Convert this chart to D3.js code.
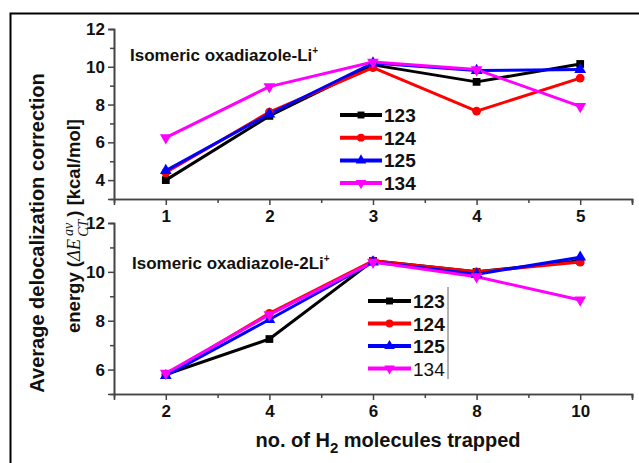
<!DOCTYPE html>
<html><head><meta charset="utf-8">
<script src="https://cdn.jsdelivr.net/npm/d3@7"></script>
<style>body{margin:0;background:#fff}svg{display:block;font-family:Arial,"Liberation Sans",sans-serif}</style>
</head><body><svg id="c" width="639" height="463"></svg>
<script>
const seriesNames = ["123","124","125","134"];
const colors = ["#000000","#ff0000","#0000ff","#ff00ff"];
const symbols = [d3.symbolSquare, d3.symbolCircle, d3.symbolTriangle, "down"];
const topX = [1,2,3,4,5];
const top123 = [4.0,7.4,10.1,9.2,10.15];
const top124 = [4.4,7.6,9.95,7.65,9.4];
const top125 = [4.5,7.5,10.2,9.8,9.85];
const top134 = [6.25,8.95,10.25,9.85,7.9];
const botX = [2,4,6,8,10];
const bot123 = [5.8,7.25,10.45,10.0,10.45];
const bot124 = [5.8,8.3,10.45,10.0,10.4];
const bot125 = [5.75,8.05,10.4,9.9,10.6];
const bot134 = [5.85,8.25,10.4,9.8,8.85];
const topYTicks = [4,6,8,10,12];
const botYTicks = [6,8,10,12];

const svg = d3.select("#c");
svg.append("rect").attr("x",10.5).attr("y",13.5).attr("width",640).attr("height",460)
  .attr("fill","none").attr("stroke","#000").attr("stroke-width",2);

function panel(cfg){
  const g = svg.append("g");
  const x = d3.scaleLinear().domain(cfg.xd).range([114,632]);
  const y = d3.scaleLinear().domain(cfg.yd).range(cfg.yr);
  const xa = d3.axisBottom(x).tickValues(cfg.xMinor).tickSize(4).tickFormat("");
  g.append("g").attr("transform",`translate(0,${cfg.yr[0]})`).call(xa);
  const xm = d3.axisBottom(x).tickValues(cfg.xTicks).tickSize(6).tickPadding(5).tickFormat(d3.format("d"));
  g.append("g").attr("transform",`translate(0,${cfg.yr[0]})`).call(xm);
  const ya = d3.axisLeft(y).tickValues(cfg.yMinor).tickSize(4).tickFormat("");
  g.append("g").attr("transform",`translate(114,0)`).call(ya);
  const ym = d3.axisLeft(y).tickValues(cfg.yTicks).tickSize(6).tickPadding(3).tickFormat(d3.format("d"));
  g.append("g").attr("transform",`translate(114,0)`).call(ym);
  g.selectAll(".domain").attr("stroke","#444").attr("stroke-width",1.6);
  g.selectAll(".tick line").attr("stroke","#444").attr("stroke-width",1.5);
  g.selectAll(".tick text").attr("font-size",17).attr("font-weight","bold").attr("fill","#111")
    .attr("font-family","Arial,'Liberation Sans',sans-serif");
  g.append("text").attr("x",cfg.titleX).attr("y",cfg.titleY).attr("font-size",17).attr("font-weight","bold")
    .attr("fill","#111").text(cfg.title).append("tspan").attr("dy",-7).attr("font-size",10).text("+");
  const line = d3.line().x((d,i)=>x(cfg.xs[i])).y(d=>y(d));
  cfg.data.forEach((vals,k)=>{
    g.append("path").attr("d",line(vals)).attr("fill","none").attr("stroke",colors[k]).attr("stroke-width",3).attr("stroke-linejoin","round");
  });
  cfg.data.forEach((vals,k)=>{
    vals.forEach((v,i)=>marker(g,x(cfg.xs[i]),y(v),k,1));
  });
  seriesNames.forEach((n,k)=>{
    const ly = cfg.legY + k*cfg.legStep;
    g.append("line").attr("x1",cfg.legX).attr("x2",cfg.legX+cfg.legW).attr("y1",ly).attr("y2",ly)
      .attr("stroke",colors[k]).attr("stroke-width",4);
    marker(g,cfg.legX+cfg.legW/2,ly,k,0.8);
    g.append("text").attr("x",cfg.legX+cfg.legW+2).attr("y",ly+7).attr("font-size",19)
      .attr("font-weight",(cfg.lastPlain && k===3)?"normal":"bold").attr("fill","#111").text(n);
  });
}
function marker(g,cx,cy,k,s){
  let sym = symbols[k], rot=0;
  if(sym==="down"){sym=d3.symbolTriangle; rot=180;}
  g.append("path").attr("d",d3.symbol().type(sym).size(60*s)())
    .attr("transform",`translate(${cx},${cy}) rotate(${rot})`).attr("fill",colors[k]);
}
panel({xd:[0.5,5.5], yd:[3,12], yr:[199,29], xs:topX, xTicks:topX, xMinor:[1.5,2.5,3.5,4.5,5.5],
  yTicks:topYTicks, yMinor:[5,7,9,11], data:[top123,top124,top125,top134],
  title:"Isomeric oxadiazole-Li", titleX:130, titleY:61,
  legX:340, legW:42, legY:115, legStep:22.7});
panel({xd:[1,11], yd:[5,12], yr:[394,223], xs:botX, xTicks:botX, xMinor:[3,5,7,9,11],
  yTicks:botYTicks, yMinor:[7,9,11], data:[bot123,bot124,bot125,bot134],
  title:"Isomeric oxadiazole-2Li", titleX:132, titleY:269,
  legX:368, legW:43, legY:301, legStep:22.5, lastPlain:true});
svg.append("line").attr("x1",448).attr("x2",448).attr("y1",287).attr("y2",379).attr("stroke","#666").attr("stroke-width",1);
svg.append("text").attr("x",388).attr("y",447).attr("text-anchor","middle").attr("font-size",20)
  .attr("font-weight","bold").attr("fill","#111")
  .html('no. of H<tspan dy="6" font-size="15">2</tspan><tspan dy="-6"> molecules trapped</tspan>');
svg.append("text").attr("transform","translate(44,233) rotate(-90)").attr("text-anchor","middle")
  .attr("font-size",20).attr("font-weight","bold").attr("fill","#111").text("Average delocalization correction");
const t2 = svg.append("text").attr("transform","translate(80,226) rotate(-90)").attr("text-anchor","middle")
  .attr("font-size",18.5).attr("font-weight","bold").attr("fill","#111");
t2.append("tspan").text("energy (");
t2.append("tspan").attr("font-style","italic").attr("font-weight","normal").attr("font-family","'Liberation Serif',serif").text("ΔE");
t2.append("tspan").attr("font-size",14).attr("dx",2).attr("dy",8).attr("font-style","italic").attr("font-family","'Liberation Serif',serif").attr("font-weight","normal").text("CT");
t2.append("tspan").attr("font-size",14).attr("dx",-15).attr("dy",-15).attr("font-style","italic").attr("font-family","'Liberation Serif',serif").attr("font-weight","normal").text("av");
t2.append("tspan").attr("dx",1).attr("dy",7).text(" ) [kcal/mol]");
</script></body></html>
